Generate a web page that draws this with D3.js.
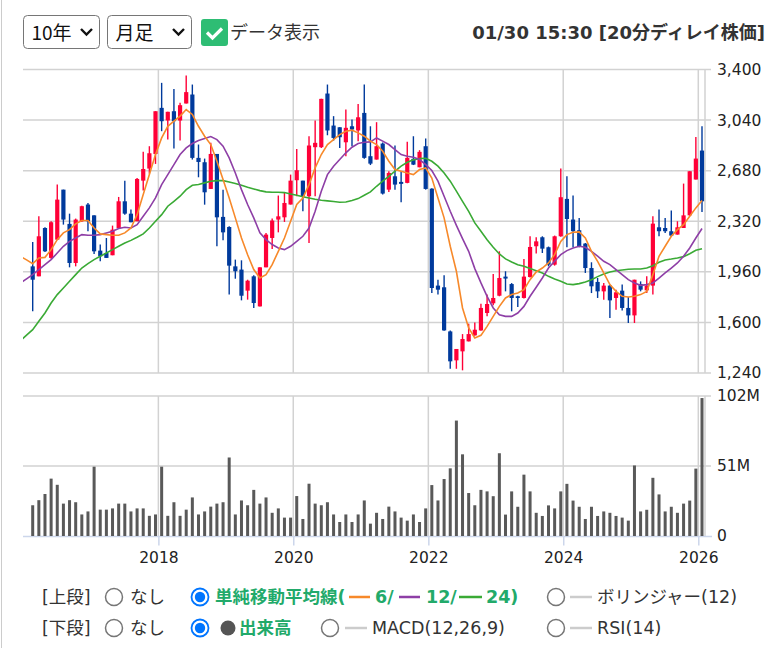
<!DOCTYPE html>
<html>
<head>
    <meta charset="utf-8">
    <title>10年 月足チャート</title>
    <script src="https://d3js.org/d3.v7.min.js"></script>
    <style>
        body {
            margin: 0;
            background-color: #FFFFFF;
        }

        svg text {
            font-family: "DejaVu Sans", "Noto Sans CJK JP", sans-serif;
            fill: #222222;
        }
    </style>
</head>
<body>

    <div id="chart"></div>

    <script>
        // Monthly candles, oldest first (110 months)
        var opens = [
            1999, 1928, 2272, 2059, 2189, 2545, 2301, 2023, 2320, 2439,
            2362, 2111, 2094, 2078, 2272, 2462, 2374, 2320, 2609, 2695,
            2799, 3127, 3037, 3103, 3037, 3158, 3222, 2771, 2740, 2550,
            2799, 2351, 2279, 1999, 1976, 1826, 1928, 1714, 1992, 2201,
            2332, 2348, 2439, 2612, 2609, 2498, 2847, 2847, 3229, 3001,
            2989, 2882, 2996, 2966, 3091, 2783, 2759, 2873, 2545, 2640,
            2600, 2593, 2764, 2704, 2854, 2552, 1862, 1850, 1536, 1330,
            1394, 1465, 1508, 1543, 1667, 1736, 1790, 1926, 1873, 1786,
            1774, 1923, 2142, 2206, 2135, 2011, 2213, 2479, 2332, 2256,
            2161, 1987, 1888, 1821, 1862, 1774, 1826, 1703, 1650, 1873,
            1828, 1862, 2277, 2272, 2249, 2225, 2272, 2362, 2617, 2823
        ];
        var highs = [
            2173, 2355, 2277, 2320, 2581, 2545, 2374, 2339, 2430, 2450,
            2362, 2154, 2201, 2289, 2493, 2609, 2403, 2628, 2814, 2854,
            3103, 3305, 3099, 3262, 3163, 3357, 3293, 2866, 2766, 2878,
            2799, 2545, 2284, 2047, 2042, 1904, 1935, 1992, 2237, 2339,
            2503, 2522, 2652, 2835, 2609, 2925, 3037, 3191, 3293, 3068,
            2989, 3115, 3044, 3155, 3293, 2996, 3025, 2880, 2676, 2859,
            2676, 2885, 2925, 2826, 2909, 2555, 1904, 1935, 1543, 1411,
            1517, 1591, 1600, 1733, 1798, 1945, 2106, 1964, 1880, 1790,
            2052, 2213, 2206, 2213, 2140, 2218, 2695, 2640, 2503, 2344,
            2165, 2028, 1916, 1881, 1866, 1833, 1869, 1781, 1904, 1892,
            1928, 2355, 2403, 2344, 2396, 2320, 2588, 2676, 2920, 2996
        ];
        var lows = [
            1679, 1928, 2101, 2054, 2189, 2296, 1992, 1999, 2315, 2249,
            2087, 2035, 2059, 2078, 2265, 2367, 2313, 2320, 2538, 2659,
            2728, 2961, 2901, 2837, 2894, 3158, 2759, 2633, 2438, 2550,
            2142, 2184, 1798, 1911, 1757, 1762, 1703, 1714, 1992, 2123,
            2241, 2315, 2439, 2498, 2391, 2165, 2498, 2842, 2932, 2894,
            2842, 2783, 2854, 2890, 2765, 2720, 2759, 2510, 2529, 2545,
            2455, 2590, 2720, 2704, 2545, 1809, 1798, 1540, 1270, 1270,
            1259, 1465, 1505, 1540, 1643, 1722, 1786, 1821, 1679, 1710,
            1770, 1920, 2090, 2094, 1999, 2004, 2210, 2135, 2135, 2135,
            1952, 1809, 1774, 1762, 1631, 1691, 1684, 1596, 1596, 1821,
            1809, 1798, 2213, 2237, 2208, 2225, 2272, 2355, 2617, 2386
        ];
        var closes = [
            1904, 2213, 2106, 2313, 2474, 2332, 2023, 2332, 2427, 2320,
            2106, 2071, 2059, 2260, 2462, 2374, 2313, 2621, 2692, 2804,
            3103, 3032, 3099, 3032, 3146, 3239, 2771, 2742, 2526, 2799,
            2348, 2241, 2004, 1964, 1790, 1897, 1738, 1992, 2225, 2325,
            2355, 2450, 2609, 2683, 2498, 2859, 2878, 3191, 2966, 2913,
            2918, 2985, 2973, 3060, 2771, 2730, 2854, 2517, 2664, 2581,
            2586, 2771, 2723, 2814, 2550, 1845, 1833, 1543, 1323, 1411,
            1482, 1517, 1548, 1703, 1731, 1774, 1916, 1912, 1774, 1774,
            1926, 2137, 2177, 2125, 2011, 2213, 2491, 2336, 2249, 2142,
            1987, 1857, 1821, 1862, 1757, 1814, 1703, 1650, 1904, 1833,
            1862, 2303, 2249, 2249, 2218, 2277, 2362, 2676, 2766, 2462
        ];

        // Volume in millions of shares
        var volumes = [
            22.4, 26.1, 30.6, 41.8, 37.3, 23.6, 26.1, 24.6, 15.7, 17.9,
            50.5, 19.2, 19.2, 20.1, 23.6, 23.6, 17.9, 20.1, 20.1, 14.7,
            15.7, 50.5, 14.7, 24.6, 14.7, 19.2, 28.1, 15.7, 17.9, 21.4,
            23.6, 24.6, 57.2, 15.7, 25.9, 22.4, 33.6, 23.6, 28.1, 16.9,
            20.1, 13.4, 13.4, 29.1, 12.4, 38.1, 23.6, 22.4, 24.6, 15.7,
            10.2, 15.7, 10.2, 15.7, 25.9, 9.0, 16.9, 12.4, 21.4, 17.9,
            13.4, 11.2, 15.7, 10.2, 20.1, 37.1, 25.9, 41.5, 49.3, 84.1,
            59.5, 31.3, 22.4, 33.6, 32.5, 29.0, 60.3, 15.6, 32.5, 21.3,
            44.7, 32.5, 16.9, 14.6, 22.3, 20.1, 32.5, 38.0, 25.8, 21.3,
            12.4, 21.3, 14.6, 17.9, 16.9, 14.6, 13.4, 11.2, 51.4, 17.9,
            19.1, 42.4, 30.3, 17.9, 21.3, 16.9, 23.6, 25.8, 49.1, 100.5
        ];

        // Moving averages; the first two values belong to the months
        // just before the first candle (the lines run in from the edge)
        var ma6 = [
            2070, 2045,
            2018, 2059, 2063, 2118, 2189, 2237, 2260, 2301, 2325, 2325,
            2272, 2230, 2225, 2220, 2220, 2237, 2272, 2367, 2510, 2652,
            2795, 2913, 2996, 3032, 3068, 3115, 3080, 2996, 2925, 2866,
            2747, 2617, 2486, 2344, 2201, 2082, 1976, 1916, 1940, 2011,
            2106, 2201, 2320, 2439, 2486, 2581, 2700, 2795, 2866, 2901,
            2937, 2961, 2968, 2949, 2925, 2890, 2866, 2818, 2747, 2688,
            2676, 2664, 2652, 2688, 2700, 2628, 2486, 2344, 2142, 1964,
            1703, 1560, 1489, 1508, 1572, 1643, 1714, 1774, 1798, 1809,
            1833, 1904, 1959, 1987, 2023, 2082, 2177, 2225, 2242, 2244,
            2201, 2106, 2035, 1952, 1869, 1821, 1786, 1781, 1786, 1798,
            1821, 1940, 2071, 2142, 2213, 2260, 2296, 2355, 2415, 2467
        ];
        var ma12 = [
            1880, 1910,
            1940, 1976, 2011, 2047, 2094, 2142, 2177, 2201, 2225, 2220,
            2220, 2225, 2237, 2249, 2268, 2277, 2272, 2296, 2355, 2415,
            2486, 2581, 2652, 2723, 2795, 2842, 2873, 2894, 2909, 2923,
            2901, 2854, 2771, 2664, 2545, 2439, 2344, 2237, 2189, 2154,
            2130, 2118, 2142, 2177, 2213, 2272, 2391, 2534, 2652, 2712,
            2759, 2807, 2847, 2873, 2882, 2885, 2913, 2890, 2866, 2830,
            2795, 2783, 2776, 2759, 2723, 2681, 2605, 2498, 2391, 2291,
            2196, 2106, 1983, 1881, 1786, 1703, 1655, 1643, 1643, 1667,
            1714, 1786, 1850, 1916, 1987, 2035, 2082, 2111, 2130, 2142,
            2135, 2106, 2071, 2035, 2011, 1976, 1940, 1904, 1881, 1864,
            1869, 1881, 1916, 1952, 1987, 2023, 2071, 2130, 2201, 2268
        ];
        var ma24 = [
            1470, 1510,
            1548, 1608, 1667, 1738, 1798, 1845, 1893, 1940, 1987, 2018,
            2047, 2071, 2094, 2118, 2142, 2165, 2184, 2206, 2230, 2272,
            2320, 2367, 2427, 2462, 2498, 2545, 2576, 2581, 2593, 2605,
            2609, 2609, 2600, 2588, 2576, 2562, 2550, 2538, 2529, 2526,
            2526, 2524, 2514, 2505, 2495, 2486, 2477, 2469, 2465, 2460,
            2455, 2457, 2467, 2481, 2505, 2529, 2569, 2605, 2640, 2676,
            2712, 2740, 2757, 2766, 2768, 2747, 2712, 2664, 2605, 2534,
            2462, 2391, 2308, 2249, 2189, 2135, 2087, 2052, 2030, 2011,
            1999, 1983, 1968, 1952, 1928, 1909, 1893, 1873, 1869, 1876,
            1888, 1904, 1926, 1945, 1959, 1968, 1973, 1978, 1980, 1980,
            1987, 2004, 2028, 2044, 2051, 2059, 2068, 2089, 2113, 2125
        ];

        // Axis ticks
        var priceTicks = [1240, 1600, 1960, 2320, 2680, 3040, 3400];
        var volumeTicks = [0, 51, 102];
        var yearTicks = [2018, 2020, 2022, 2024, 2026];

        var RED = "#ff0037", BLUE = "#003a9c";
        var GRID = "#d2d2d2", AXIS = "#ccd6eb";
        var ORANGE = "#f7892a", PURPLE = "#8e3fa6", GREEN = "#3aaa35";
        var TEXT_GREEN = "#22aa6a";

        var svg = d3.select("#chart")
            .append("svg")
            .attr("width", 783)
            .attr("height", 648);

        // Scales
        var x = d3.scaleLinear().domain([0, opens.length - 1]).range([32.7, 702]);
        var xYear = d3.scaleTime()
            .domain([new Date(2016, 0, 1), new Date(2026, 0, 1)])
            .range([23.3, 698.3]);
        var yPrice = d3.scaleLinear().domain([1240, 3400]).range([373, 69.5]);
        var yVol = d3.scaleLinear().domain([0, 102]).range([536, 396]);
        var plotLeft = 23, plotRight = 705;

        // Page border on the left
        svg.append("line")
            .attr("x1", 1.5).attr("x2", 1.5).attr("y1", 0).attr("y2", 648)
            .attr("stroke", "#cccccc");

        // ---------- Header controls ----------
        function selectBox(x0, w, label, chevX) {
            svg.append("rect")
                .attr("x", x0).attr("y", 15.5).attr("width", w).attr("height", 33)
                .attr("rx", 4)
                .attr("fill", "#ffffff").attr("stroke", "#767676");
            svg.append("text")
                .attr("x", x0 + 8).attr("y", 39.5)
                .style("font-family", "\"Noto Sans CJK JP\", sans-serif")
                .style("font-size", "19px").style("fill", "#111")
                .text(label);
            svg.append("path")
                .attr("d", "M" + chevX + ",29 l5.5,5.5 l5.5,-5.5")
                .attr("fill", "none").attr("stroke", "#111").attr("stroke-width", 2.4);
        }
        selectBox(23.5, 76, "10年", 81);
        selectBox(107.5, 84, "月足", 173);

        svg.append("rect")
            .attr("x", 201).attr("y", 19).attr("width", 27).attr("height", 27)
            .attr("rx", 3).attr("fill", "#2ebd74");
        svg.append("path")
            .attr("d", "M207,32.5 L212.5,38 L222,28.5")
            .attr("fill", "none").attr("stroke", "#ffffff").attr("stroke-width", 3.2);
        svg.append("text")
            .attr("x", 230).attr("y", 39)
            .style("font-family", "\"Noto Sans CJK JP\", sans-serif")
            .style("font-size", "18px").style("fill", "#333")
            .text("データ表示");
        svg.append("text")
            .attr("x", 765).attr("y", 39)
            .attr("text-anchor", "end")
            .style("font-size", "18px").style("font-weight", "bold").style("fill", "#333")
            .text("01/30 15:30 [20分ディレイ株価]");

        // ---------- Grid ----------
        var grid = svg.append("g");

        grid.selectAll(".hp").data(priceTicks).enter().append("line")
            .attr("x1", plotLeft).attr("x2", 711)
            .attr("y1", function (d) { return yPrice(d); })
            .attr("y2", function (d) { return yPrice(d); })
            .attr("stroke", GRID).attr("stroke-width", 1.5);

        grid.selectAll(".hv").data(volumeTicks.slice(1)).enter().append("line")
            .attr("x1", plotLeft).attr("x2", 711)
            .attr("y1", function (d) { return yVol(d); })
            .attr("y2", function (d) { return yVol(d); })
            .attr("stroke", GRID).attr("stroke-width", 1.5);

        var vLines = yearTicks.map(function (y) { return xYear(new Date(y, 0, 1)); });
        vLines.push(plotRight);
        vLines.forEach(function (vx) {
            grid.append("line")
                .attr("x1", vx).attr("x2", vx).attr("y1", yPrice(3400)).attr("y2", yPrice(1240))
                .attr("stroke", GRID).attr("stroke-width", 1.5);
            grid.append("line")
                .attr("x1", vx).attr("x2", vx).attr("y1", yVol(102)).attr("y2", yVol(0))
                .attr("stroke", GRID).attr("stroke-width", 1.5);
        });

        // Volume baseline and year ticks
        svg.append("line")
            .attr("x1", plotLeft).attr("x2", 712).attr("y1", yVol(0) + 0.5).attr("y2", yVol(0) + 0.5)
            .attr("stroke", AXIS).attr("stroke-width", 1.5);

        var xAxis = d3.axisBottom(xYear)
            .tickValues(yearTicks.map(function (y) { return new Date(y, 0, 1); }))
            .tickFormat(d3.timeFormat("%Y"))
            .tickSize(9)
            .tickPadding(6);
        var gx = svg.append("g")
            .attr("transform", "translate(0," + (yVol(0) + 0.5) + ")")
            .call(xAxis);
        gx.select(".domain").remove();
        gx.selectAll(".tick line").attr("stroke", AXIS).attr("stroke-width", 1.5);
        gx.selectAll(".tick text")
            .style("font-size", "15.5px").style("fill", "#222")
            .style("font-family", "\"DejaVu Sans\", sans-serif");

        // Right price / volume axes
        var yAxisP = d3.axisRight(yPrice).tickValues(priceTicks).tickFormat(d3.format(",")).tickSize(0).tickPadding(0);
        var gp = svg.append("g").attr("transform", "translate(717,0)").call(yAxisP);
        gp.select(".domain").remove();
        gp.selectAll("text").style("font-size", "15.5px").style("fill", "#222")
            .style("font-family", "\"DejaVu Sans\", sans-serif");

        var yAxisV = d3.axisRight(yVol).tickValues(volumeTicks)
            .tickFormat(function (d) { return d === 0 ? "0" : d + "M"; }).tickSize(0).tickPadding(0);
        var gv = svg.append("g").attr("transform", "translate(717,0)").call(yAxisV);
        gv.select(".domain").remove();
        gv.selectAll("text").style("font-size", "15.5px").style("fill", "#222")
            .style("font-family", "\"DejaVu Sans\", sans-serif");

        // ---------- Candles ----------
        svg.append("defs").append("clipPath").attr("id", "plot-clip")
            .append("rect")
            .attr("x", plotLeft).attr("y", yPrice(3400))
            .attr("width", plotRight - plotLeft).attr("height", yPrice(1240) - yPrice(3400));

        var candles = svg.append("g").selectAll("g")
            .data(opens.map(function (o, i) {
                return { i: i, o: o, h: highs[i], l: lows[i], c: closes[i] };
            }))
            .enter().append("g");

        candles.append("line")
            .attr("x1", function (d) { return x(d.i); })
            .attr("x2", function (d) { return x(d.i); })
            .attr("y1", function (d) { return yPrice(d.h); })
            .attr("y2", function (d) { return yPrice(d.l); })
            .attr("stroke", function (d) { return d.c >= d.o ? RED : BLUE; })
            .attr("stroke-width", 1.4);

        candles.append("rect")
            .attr("x", function (d) { return x(d.i) - 2.1; })
            .attr("width", 4.2)
            .attr("y", function (d) { return yPrice(Math.max(d.o, d.c)); })
            .attr("height", function (d) { return Math.max(1.5, Math.abs(yPrice(d.o) - yPrice(d.c))); })
            .attr("fill", function (d) { return d.c >= d.o ? RED : BLUE; });

        // ---------- Moving averages ----------
        var maLine = d3.line()
            .x(function (d, i) { return x(i - 2); })
            .y(function (d) { return yPrice(d); });

        [[ma24, GREEN], [ma12, PURPLE], [ma6, ORANGE]].forEach(function (m) {
            svg.append("path")
                .datum(m[0])
                .attr("clip-path", "url(#plot-clip)")
                .attr("d", maLine)
                .attr("fill", "none")
                .attr("stroke", m[1])
                .attr("stroke-width", 1.6);
        });

        // ---------- Volume ----------
        svg.append("g").selectAll("rect")
            .data(volumes)
            .enter().append("rect")
            .attr("x", function (d, i) { return x(i) - 1.5; })
            .attr("width", 3)
            .attr("y", function (d) { return yVol(d); })
            .attr("height", function (d) { return yVol(0) - yVol(d); })
            .attr("fill", "#595959");

        // ---------- Footer options ----------
        function radio(cx, cy, checked) {
            svg.append("circle")
                .attr("cx", cx).attr("cy", cy).attr("r", 8.5)
                .attr("fill", "#ffffff")
                .attr("stroke", checked ? "#0075ff" : "#767676")
                .attr("stroke-width", checked ? 1.8 : 1.5);
            if (checked) {
                svg.append("circle")
                    .attr("cx", cx).attr("cy", cy).attr("r", 5.2)
                    .attr("fill", "#0075ff");
            }
        }
        function label(tx, ty, str, color, bold) {
            svg.append("text")
                .attr("x", tx).attr("y", ty)
                .style("font-size", "17.5px")
                .style("fill", color || "#333")
                .style("font-weight", bold ? "bold" : "normal")
                .text(str);
        }
        function dash(x1, x2, cy, color) {
            svg.append("line")
                .attr("x1", x1).attr("x2", x2).attr("y1", cy).attr("y2", cy)
                .attr("stroke", color).attr("stroke-width", 2.5);
        }

        // upper row
        label(42, 603, "[上段]");
        radio(114, 597, false);
        label(130, 603, "なし");
        radio(200, 597, true);
        label(215, 603, "単純移動平均線(", TEXT_GREEN, true);
        dash(349, 370, 597, ORANGE);
        label(375, 603, "6/", TEXT_GREEN, true);
        dash(399, 420, 597, PURPLE);
        label(426, 603, "12/", TEXT_GREEN, true);
        dash(459, 482, 597, GREEN);
        label(486, 603, "24)", TEXT_GREEN, true);
        radio(556, 597, false);
        dash(570, 592, 597, "#cccccc");
        label(597, 603, "ボリンジャー(12)");

        // lower row
        label(42, 634, "[下段]");
        radio(114, 628, false);
        label(130, 634, "なし");
        radio(200, 628, true);
        svg.append("circle").attr("cx", 228).attr("cy", 628).attr("r", 7.5).attr("fill", "#555555");
        label(239, 634, "出来高", TEXT_GREEN, true);
        radio(330, 628, false);
        dash(345, 367, 628, "#cccccc");
        label(372, 634, "MACD(12,26,9)");
        radio(556, 628, false);
        dash(570, 592, 628, "#cccccc");
        label(597, 634, "RSI(14)");
    </script>
</body>
</html>
